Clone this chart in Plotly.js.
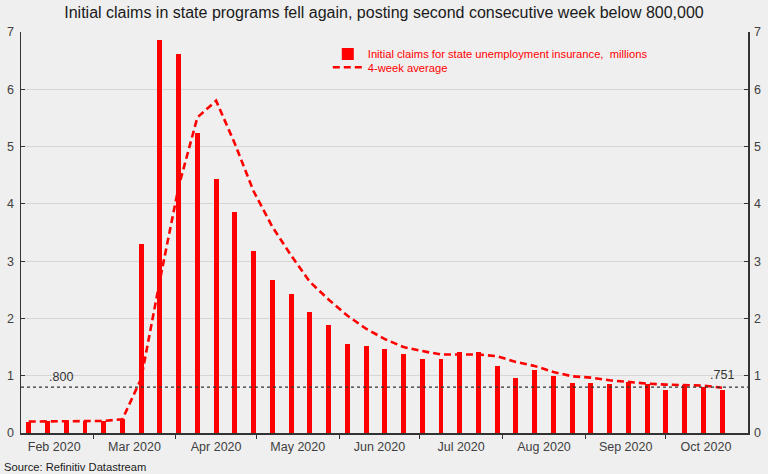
<!DOCTYPE html>
<html>
<head>
<meta charset="utf-8">
<script src="https://cdn.plot.ly/plotly-3.0.1.min.js"></script>
<style>html,body{margin:0;padding:0;background:#efefef;}#chart{width:768px;height:474px;}</style>
</head>
<body>
<div id="chart"></div>
<script>
// Week-ending dates (Saturdays)
const weeks = [
  '2020-02-08','2020-02-15','2020-02-22','2020-02-29','2020-03-07','2020-03-14','2020-03-21','2020-03-28',
  '2020-04-04','2020-04-11','2020-04-18','2020-04-25','2020-05-02','2020-05-09','2020-05-16','2020-05-23',
  '2020-05-30','2020-06-06','2020-06-13','2020-06-20','2020-06-27','2020-07-04','2020-07-11','2020-07-18',
  '2020-07-25','2020-08-01','2020-08-08','2020-08-15','2020-08-22','2020-08-29','2020-09-05','2020-09-12',
  '2020-09-19','2020-09-26','2020-10-03','2020-10-10','2020-10-17','2020-10-24'
];
// Initial claims, millions
const claims = [
  0.20, 0.21, 0.21, 0.21, 0.21, 0.25, 3.30, 6.86,
  6.62, 5.23, 4.43, 3.86, 3.17, 2.67, 2.43, 2.11,
  1.885, 1.55, 1.525, 1.47, 1.385, 1.30, 1.30, 1.41,
  1.42, 1.17, 0.955, 1.095, 0.995, 0.873, 0.873, 0.862,
  0.89, 0.85, 0.757, 0.845, 0.80, 0.751
];
// 4-week average, millions
const avg4 = [
  0.20, 0.20, 0.21, 0.21, 0.21, 0.24, 0.95, 2.67,
  4.30, 5.51, 5.80, 5.05, 4.22, 3.60, 3.10, 2.64,
  2.33, 2.05, 1.82, 1.64, 1.50, 1.43, 1.37, 1.37,
  1.37, 1.34, 1.24, 1.17, 1.065, 0.99, 0.967, 0.92,
  0.89, 0.862, 0.845, 0.832, 0.827, 0.79
];
const threshold = 0.8;
const yTicks = [0, 1, 2, 3, 4, 5, 6, 7];

const DAY = 86400000;
const FONT = 'Liberation Sans Narrow, Arial Narrow, Liberation Sans, Arial, sans-serif';
const lastVal = claims[claims.length - 1];
const fmt = v => v.toFixed(3).replace(/^0/, '');

const traces = [
  {
    type: 'bar', x: weeks, y: claims,
    xperiod: 7 * DAY, xperiod0: '2020-01-02', xperiodalignment: 'start',
    width: 1.85 * DAY,
    marker: {color: '#ff0000', line: {width: 0}},
    name: 'Initial claims for state unemployment insurance,  millions',
    legend: 'legend'
  },
  {
    type: 'scatter', mode: 'lines', x: weeks, y: avg4,
    xperiod: 7 * DAY, xperiod0: '2020-01-02', xperiodalignment: 'start',
    line: {color: '#ff0000', width: 2.6, dash: '7px,4px'},
    name: '4-week average',
    legend: 'legend2'
  },
  {
    type: 'scatter', mode: 'lines', x: weeks, y: weeks.map(() => null),
    yaxis: 'y2', showlegend: false, hoverinfo: 'skip'
  }
];

const legendBase = {
  xanchor: 'left', yanchor: 'middle', bgcolor: 'rgba(0,0,0,0)',
  font: {family: FONT, size: 11.2, color: '#ff0000'}, itemwidth: 30
};

const layout = {
  width: 768, height: 474,
  paper_bgcolor: '#efefef', plot_bgcolor: '#efefef',
  margin: {l: 21, r: 20, t: 32, b: 41},
  font: {family: FONT, size: 12.5, color: '#404040'},
  title: {
    text: 'Initial claims in state programs fell again, posting second consecutive week below 800,000',
    font: {family: FONT, size: 16, color: '#1a1a1a'},
    x: 0.5, xanchor: 'center', y: 0.974, yanchor: 'middle'
  },
  bargap: 0,
  showlegend: true,
  legend: Object.assign({}, legendBase, {x: 0.422, y: 0.945}),
  legend2: Object.assign({}, legendBase, {x: 0.422, y: 0.912}),
  xaxis: {
    type: 'date',
    range: ['2020-02-03 02:24', '2020-10-31 16:48'],
    dtick: 'M1', tick0: '2020-01-01', tickformat: '%b %Y', ticklabelmode: 'period',
    ticks: 'outside', ticklen: 4, tickcolor: '#333', tickwidth: 1,
    ticklabelstandoff: -3,
    showline: true, linecolor: '#333', linewidth: 1.5,
    showgrid: false, zeroline: false,
    tickfont: {family: FONT, size: 12.5, color: '#404040'}
  },
  yaxis: {
    range: [0, 7], tickvals: yTicks, ticktext: yTicks.map(String),
    ticks: 'inside', ticklen: 4, tickcolor: '#333', ticklabelstandoff: 3,
    showline: true, linecolor: '#333', linewidth: 1.5,
    showgrid: true, gridcolor: '#d6d6d6', gridwidth: 1, zeroline: false,
    tickfont: {family: FONT, size: 12.5, color: '#404040'}
  },
  yaxis2: {
    overlaying: 'y', side: 'right', range: [0, 7], tickvals: yTicks, ticktext: yTicks.map(String),
    ticks: 'inside', ticklen: 4, tickcolor: '#333', ticklabelstandoff: 2,
    showline: true, linecolor: '#333', linewidth: 1.5,
    showgrid: false, zeroline: false,
    tickfont: {family: FONT, size: 12.5, color: '#404040'}
  },
  shapes: [
    {type: 'line', xref: 'paper', x0: 0, x1: 1, yref: 'y', y0: threshold, y1: threshold,
     line: {color: '#333', width: 1.2, dash: 'dot'}, layer: 'above'}
  ],
  annotations: [
    {xref: 'paper', x: 0.036, xanchor: 'left', yref: 'y', y: threshold, yanchor: 'bottom', yshift: 1,
     text: fmt(threshold), showarrow: false, font: {family: FONT, size: 12.5, color: '#333'}},
    {xref: 'x', x: '2020-10-22', yref: 'y', y: lastVal, yanchor: 'bottom', yshift: 6,
     text: fmt(lastVal), showarrow: false, font: {family: FONT, size: 12.5, color: '#333'}},
    {xref: 'paper', x: -0.026, xanchor: 'left', yref: 'paper', y: -0.085, yanchor: 'middle',
     text: 'Source: Refinitiv Datastream', showarrow: false, font: {family: FONT, size: 11.2, color: '#1a1a1a'}}
  ]
};

Plotly.newPlot('chart', traces, layout, {displayModeBar: false, staticPlot: true});
</script>
</body>
</html>
